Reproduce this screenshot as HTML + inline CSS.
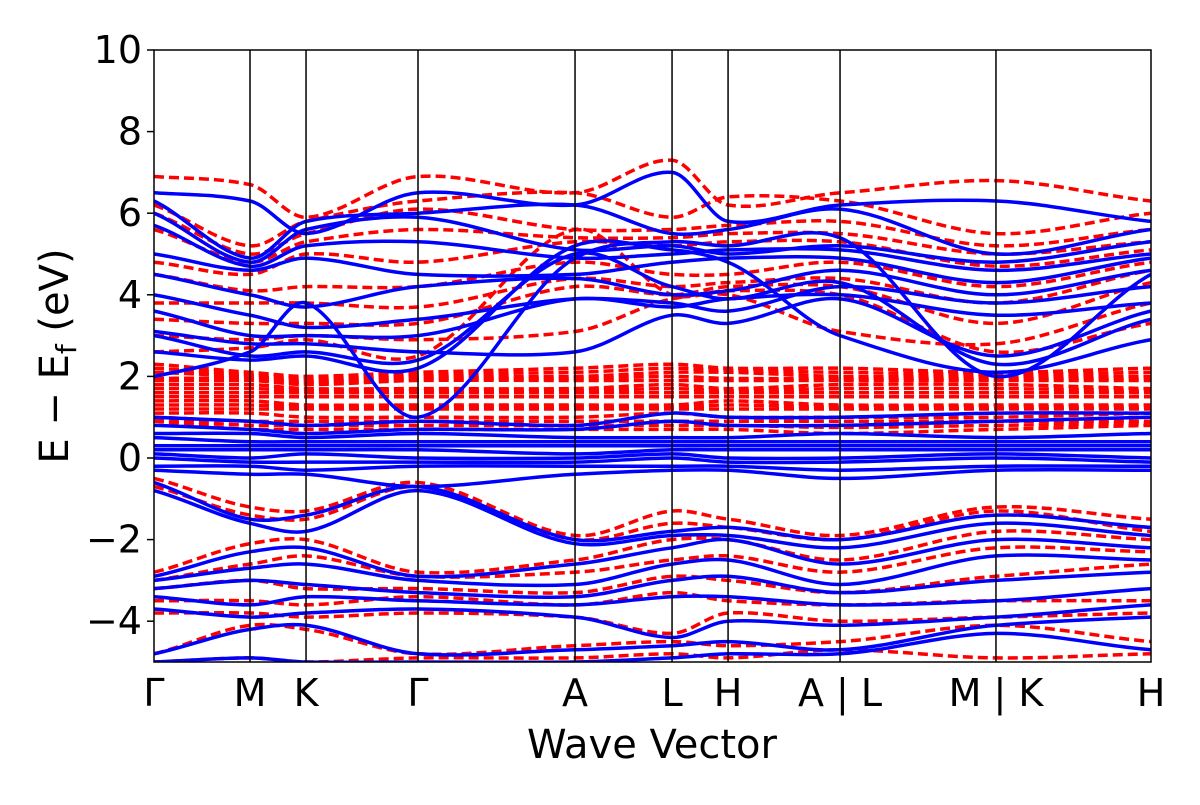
<!DOCTYPE html>
<html><head><meta charset="utf-8"><style>
html,body{margin:0;padding:0;background:#fff;}
svg text{font-family:"DejaVu Sans","Liberation Sans",sans-serif;fill:#000;}
</style></head><body>
<svg id="chart" width="1200" height="800" viewBox="0 0 1200 800" xmlns="http://www.w3.org/2000/svg">
<defs><clipPath id="clip"><rect x="154" y="50" width="997" height="612"/></clipPath></defs>
<g id="bands" clip-path="url(#clip)"></g>
<g id="axes"></g>
</svg>
<script>
const kLabels = ["Γ","M","K","Γ","A","L","H","A | L","M | K","H"];
const kPos = [0,0.0963,0.1525,0.2648,0.4223,0.5196,0.5758,0.6881,0.8445,1.0];
const yTicks = [-4,-2,0,2,4,6,8,10];
const blueBands = [
[6.5,6.3,5.5,6.5,6.2,7.0,5.8,6.2,6.3,5.8],
[6.3,4.9,5.8,6.0,6.2,5.5,5.6,6.1,5.0,5.6],
[6.0,4.8,5.6,5.9,5.1,5.2,5.0,5.2,4.8,5.3],
[5.7,4.7,5.2,5.3,4.9,5.0,5.1,5.1,4.6,5.0],
[5.0,4.6,4.9,4.5,4.5,4.8,4.9,4.9,4.3,4.9],
[4.5,4.0,3.7,4.2,4.4,4.0,4.1,4.6,4.0,4.6],
[4.0,3.5,3.2,3.4,3.9,3.8,3.6,4.2,3.8,4.2],
[3.6,3.0,3.0,3.0,3.9,3.7,3.9,4.0,3.5,3.8],
[3.1,2.8,2.8,2.6,2.6,3.5,3.3,3.9,2.5,3.6],
[3.0,2.5,2.6,2.4,5.0,4.2,3.9,4.3,2.3,3.4],
[2.6,2.4,2.5,2.2,5.2,5.1,4.8,3.0,2.1,2.9],
[2.0,2.6,3.8,1.0,4.9,5.3,5.2,5.4,2.0,4.5],
[1.0,0.9,0.8,0.9,0.8,1.1,1.0,1.0,1.1,1.1],
[0.8,0.7,0.6,0.7,0.7,0.9,0.8,0.8,0.9,1.0],
[0.6,0.6,0.5,0.6,0.5,0.5,0.5,0.6,0.5,0.6],
[0.5,0.4,0.4,0.4,0.4,0.4,0.4,0.4,0.4,0.4],
[0.3,0.3,0.3,0.3,0.3,0.3,0.3,0.3,0.3,0.3],
[0.2,0.2,0.2,0.2,0.1,0.2,0.2,0.2,0.2,0.2],
[0.1,0.0,0.1,0.0,0.0,0.1,0.0,0.0,0.1,0.0],
[0.0,-0.1,-0.1,-0.1,-0.1,0.0,-0.1,-0.1,0.0,-0.1],
[-0.2,-0.2,-0.3,-0.2,-0.2,-0.2,-0.2,-0.3,-0.2,-0.2],
[-0.3,-0.4,-0.4,-0.7,-0.4,-0.3,-0.3,-0.5,-0.3,-0.3],
[-0.6,-1.5,-1.4,-0.7,-2.0,-1.8,-1.7,-2.0,-1.4,-1.7],
[-0.8,-1.6,-1.8,-0.8,-2.1,-1.9,-1.9,-2.2,-1.6,-1.9],
[-2.9,-2.3,-2.2,-2.9,-2.6,-2.2,-2.0,-2.6,-2.0,-2.2],
[-3.0,-2.7,-2.6,-3.0,-3.1,-2.6,-2.5,-3.1,-2.4,-2.5],
[-3.2,-3.0,-3.1,-3.3,-3.4,-3.0,-2.9,-3.3,-3.0,-2.8],
[-3.4,-3.6,-3.4,-3.5,-3.6,-3.4,-3.4,-3.6,-3.5,-3.2],
[-3.7,-3.9,-3.8,-3.7,-3.9,-4.4,-4.0,-4.1,-3.9,-3.6],
[-4.8,-4.2,-4.1,-4.8,-4.7,-4.6,-4.5,-4.7,-4.1,-3.9],
[-5.0,-4.9,-5.0,-5.0,-5.0,-4.9,-4.8,-4.8,-4.3,-4.7]
];
const redBands = [
[6.9,6.7,5.9,6.9,6.5,7.3,6.2,6.5,6.8,6.3],
[6.2,5.2,5.8,6.3,6.5,5.9,6.4,6.3,5.5,6.0],
[6.0,5.0,5.5,6.1,5.6,5.6,5.7,5.8,5.2,5.6],
[5.6,4.8,5.3,5.6,5.4,5.4,5.5,5.5,5.0,5.3],
[4.8,4.5,5.0,4.8,5.3,5.2,5.3,5.3,4.7,5.1],
[4.5,4.1,4.2,4.2,4.8,4.5,4.5,4.8,4.2,4.8],
[3.8,3.8,3.8,3.7,4.4,4.2,4.3,4.4,3.8,4.6],
[3.4,3.3,3.3,3.3,4.2,4.0,4.2,4.2,3.3,4.3],
[3.0,2.9,3.0,2.9,3.1,3.9,4.0,3.1,2.8,3.8],
[2.6,2.7,2.9,2.5,5.6,4.0,4.1,4.0,2.6,3.3],
[2.3,2.1,2.0,2.1,2.2,2.3,2.2,2.2,2.1,2.2],
[2.2,2.05,1.95,2.05,2.1,2.2,2.15,2.1,2.05,2.1],
[2.1,2.0,1.9,2.0,2.0,2.1,2.1,2.0,2.0,2.0],
[1.95,1.95,1.85,1.95,1.95,2.0,1.95,1.95,1.95,1.95],
[1.9,1.9,1.8,1.9,1.9,1.9,1.9,1.9,1.9,1.9],
[1.8,1.8,1.7,1.7,1.7,1.8,1.7,1.8,1.8,1.7],
[1.7,1.7,1.65,1.65,1.65,1.7,1.65,1.7,1.7,1.65],
[1.6,1.6,1.6,1.6,1.6,1.6,1.6,1.6,1.6,1.6],
[1.5,1.5,1.5,1.5,1.5,1.5,1.5,1.5,1.5,1.5],
[1.4,1.4,1.3,1.3,1.3,1.3,1.4,1.3,1.3,1.3],
[1.3,1.3,1.25,1.25,1.25,1.25,1.3,1.25,1.25,1.25],
[1.2,1.2,1.2,1.2,1.2,1.2,1.2,1.2,1.2,1.2],
[1.1,1.1,1.0,1.0,1.0,1.1,1.0,1.0,1.0,1.1],
[1.0,0.9,0.9,0.9,0.9,0.9,0.9,0.9,0.9,0.9],
[0.95,0.8,0.8,0.8,0.8,0.8,0.8,0.75,0.8,0.85],
[0.9,0.7,0.7,0.7,0.7,0.7,0.7,0.6,0.7,0.8],
[-0.5,-1.2,-1.3,-0.6,-1.9,-1.3,-1.5,-1.9,-1.2,-1.5],
[-0.7,-1.4,-1.5,-0.7,-2.0,-1.6,-1.7,-2.0,-1.3,-1.8],
[-2.8,-2.1,-2.0,-2.8,-2.5,-2.0,-2.0,-2.5,-1.8,-2.0],
[-3.0,-2.6,-2.4,-2.9,-2.8,-2.5,-2.4,-2.8,-2.2,-2.3],
[-3.2,-3.0,-3.2,-3.2,-3.3,-2.9,-3.0,-3.3,-2.9,-2.6],
[-3.5,-3.5,-3.6,-3.4,-3.6,-3.3,-3.5,-3.6,-3.5,-3.5],
[-3.8,-3.8,-3.9,-3.8,-3.9,-4.3,-3.8,-4.0,-3.9,-3.8],
[-4.8,-4.1,-4.2,-4.8,-4.6,-4.5,-4.6,-4.5,-4.1,-4.5],
[-5.0,-4.9,-5.0,-4.9,-4.9,-4.8,-4.9,-4.7,-4.9,-4.8]
];
const X0=154, X1=1151, Y0=662, Y1=50, EMIN=-5, EMAX=10;
function xs(k){return X0+(X1-X0)*k;}
function ys(e){return Y0-(e-EMIN)/(EMAX-EMIN)*(Y0-Y1);}
const NS="http://www.w3.org/2000/svg";
function mk(tag,attrs,parent){const el=document.createElementNS(NS,tag);for(const a in attrs)el.setAttribute(a,attrs[a]);parent.appendChild(el);return el;}
function pathFor(vals){
  const p=vals.map((v,i)=>[xs(kPos[i]),ys(v)]);
  let d="M"+p[0][0].toFixed(1)+","+p[0][1].toFixed(1);
  for(let i=0;i<p.length-1;i++){
    const a=p[Math.max(0,i-1)],b=p[i],c=p[i+1],e=p[Math.min(p.length-1,i+2)];
    const t=(c[0]-b[0])/3;
    const s1=(c[1]-a[1])/(c[0]-a[0]||1), s2=(e[1]-b[1])/(e[0]-b[0]||1);
    const c1y=b[1]+s1*t*0.8, c2y=c[1]-s2*t*0.8;
    d+=" C"+(b[0]+t).toFixed(1)+","+c1y.toFixed(1)+" "+(c[0]-t).toFixed(1)+","+c2y.toFixed(1)+" "+c[0].toFixed(1)+","+c[1].toFixed(1);
  }
  return d;
}
const gb=document.getElementById("bands"), ga=document.getElementById("axes");
redBands.forEach(v=>{
  const el=mk("path",{d:pathFor(v),fill:"none",stroke:"#ff0000","stroke-width":3.5,"stroke-dasharray":"10,5"},gb);
  
  
});
blueBands.forEach(v=>{
  const el=mk("path",{d:pathFor(v),fill:"none",stroke:"#0000ff","stroke-width":3.5},gb);
  
  
});
kPos.forEach((k,i)=>{
  if(i>0&&i<kPos.length-1){
    const l=mk("line",{x1:xs(k),x2:xs(k),y1:Y1,y2:Y0,stroke:"#000","stroke-width":1.5},ga);
    
    
  }
  const t=mk("text",{x:xs(k),y:706,"font-size":38,"text-anchor":"middle"},ga);
  t.textContent=kLabels[i];
  
  
});
yTicks.forEach(v=>{
  mk("line",{x1:X0-7,x2:X0,y1:ys(v),y2:ys(v),stroke:"#000","stroke-width":1.5},ga);
  const t=mk("text",{x:X0-12,y:ys(v)+13,"font-size":38,"text-anchor":"end"},ga);
  t.textContent=v<0?"−"+Math.abs(v):String(v);
  
  
});
const fr=mk("rect",{x:X0,y:Y1,width:X1-X0,height:Y0-Y1,fill:"none",stroke:"#000","stroke-width":1.5},ga);


const xt=mk("text",{x:652,y:758,"font-size":40,"text-anchor":"middle"},ga);
xt.textContent="Wave Vector";


const yt=mk("text",{transform:"translate(68,356) rotate(-90)","font-size":40,"text-anchor":"middle"},ga);
yt.innerHTML='E − E<tspan font-size="28" dy="8">f</tspan><tspan dy="-8"> (eV)</tspan>';


</script>
</body></html>
